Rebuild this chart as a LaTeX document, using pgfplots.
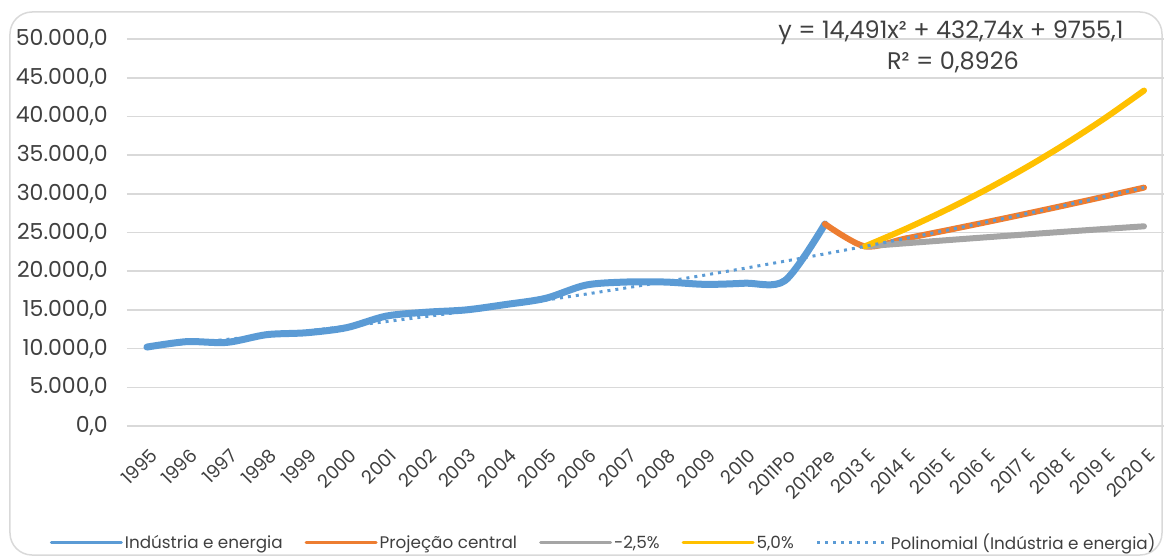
\documentclass[border=0pt]{standalone}
\usepackage{fontspec}
\setmainfont{Poppins}
\usepackage{pgfplots}
\pgfplotsset{compat=1.18}
\definecolor{cblue}{HTML}{5B9BD5}
\definecolor{corange}{HTML}{ED7D31}
\definecolor{cgray}{HTML}{A5A5A5}
\definecolor{cyellow}{HTML}{FFC000}
\definecolor{gridc}{HTML}{D9D9D9}
\definecolor{txt}{HTML}{404040}
\begin{document}
\begin{tikzpicture}
\path[use as bounding box] (-127pt,-132pt) rectangle (1037pt,426pt);
\draw[gridc, line width=1.5pt, rounded corners=22pt] (-117pt,-129pt) rectangle (1035pt,414pt);
\begin{axis}[
  at={(0pt,0pt)}, anchor=south west,
  scale only axis, width=1037pt, height=387pt,
  xmin=-0.5, xmax=25.5, ymin=0, ymax=50000,
  ytick={0,5000,...,50000},
  xtick={0,...,25},
  xticklabels={1995,1996,1997,1998,1999,2000,2001,2002,2003,2004,2005,2006,2007,2008,2009,2010,2011Po,2012Pe,2013 E,2014 E,2015 E,2016 E,2017 E,2018 E,2019 E,2020 E},
  axis line style={draw=none},
  major tick length=0pt,
  ymajorgrids, grid style={gridc, line width=1.6pt},
  scaled y ticks=false,
  yticklabel style={/pgf/number format/fixed, /pgf/number format/fixed zerofill, /pgf/number format/precision=1, /pgf/number format/use comma, /pgf/number format/1000 sep={.}, /pgf/number format/assume math mode=true},
  yticklabel style={font=\fontsize{22}{24}\selectfont, text=txt, anchor=east, inner sep=0pt, xshift=-19pt},
  xticklabel style={font=\fontsize{18.5}{20}\selectfont, text=txt, inner sep=0pt, xshift=7pt, yshift=-26pt, rotate=45, anchor=east},
  legend columns=5,
  legend style={at={(axis description cs:0.4597,-0.302)}, anchor=center, draw=none, fill=none,
    font=\fontsize{16.8}{18}\selectfont, text=txt,
    /tikz/every even column/.append style={column sep=20pt}},
  legend cell align=left,
  legend image code/.code={\draw[#1, line width=3pt] (0pt,0pt) -- (70pt,0pt);},
  clip=false,
]
\addplot[cblue, line width=7pt, smooth, line cap=round, line join=round] coordinates {
 (0,10200) (1,10900) (2,10800) (3,11800) (4,12050) (5,12700) (6,14200) (7,14700) (8,15000)
 (9,15700) (10,16500) (11,18200) (12,18600) (13,18600) (14,18300) (15,18450) (16,18800) (17,26100)};
\addlegendentry{Indústria e energia}
\addplot[corange, line width=6pt, smooth, line cap=round, line join=round] coordinates {
 (17,26100) (18,23208) (19,24206) (20,25233) (21,26289) (22,27374) (23,28488) (24,29631) (25,30802)};
\addlegendentry{Projeção central}
\addplot[cgray, line width=6pt, smooth, line cap=round] coordinates {
 (18,23208) (19,23601) (20,23987) (21,24366) (22,24738) (23,25100) (24,25455) (25,25800)};
\addlegendentry{-2,5\%}
\addplot[cyellow, line width=6pt, smooth, line cap=round] coordinates {
 (18,23208) (19,25417) (20,27820) (21,30433) (22,33273) (23,36358) (24,39708) (25,43342)};
\addlegendentry{5,0\%}
\addplot[cblue, line width=3pt, dash pattern=on 3pt off 5pt] coordinates {
 (0,10202) (1,10679) (2,11184) (3,11718) (4,12281) (5,12873) (6,13494) (7,14144) (8,14824)
 (9,15532) (10,16269) (11,17035) (12,17830) (13,18654) (14,19507) (15,20389) (16,21300)
 (17,22240) (18,23208) (19,24206) (20,25233) (21,26289) (22,27374) (23,28488) (24,29631) (25,30802)};
\addlegendentry{Polinomial (Indústria e energia)}
\end{axis}
\node[font=\fontsize{24}{26}\selectfont, text=txt] at (824pt,393pt) {y = 14,491x² + 432,74x + 9755,1};
\node[font=\fontsize{24}{26}\selectfont, text=txt] at (826pt,364pt) {R² = 0,8926};
\end{tikzpicture}
\end{document}
